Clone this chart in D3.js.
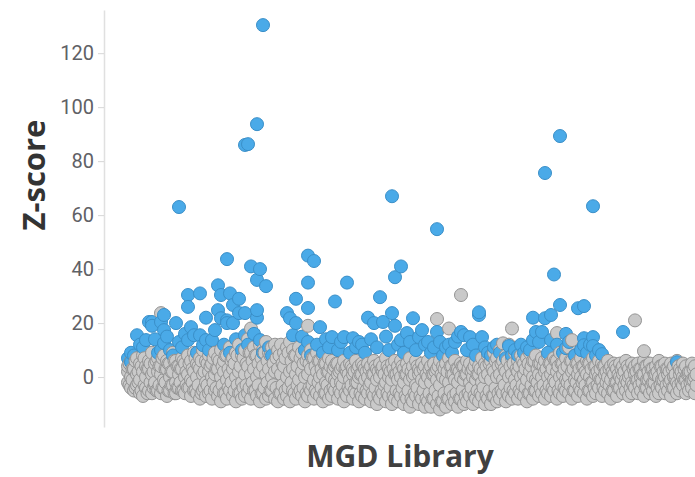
<!DOCTYPE html>
<html>
<head>
<meta charset="utf-8">
<script src="https://cdn.jsdelivr.net/npm/d3@7"></script>
<style>
  body { margin: 0; background: #fff; }
  svg { display: block; }
</style>
</head>
<body>
<div id="chart"></div>
<script>
// y tick labels
var yTicks = [0, 20, 40, 60, 80, 100, 120];

// non-significant libraries, one value per position (upper / middle / lower band)
var bandHigh = [
  4, 6, 3, 7, 5, 8, 4, 6, 9, 5,
  7, 4, 8, 6, 5, 9, 6, 4, 7, 5,
  8, 6, 9, 5, 7, 10, 6, 8, 5, 9,
  7, 10, 6, 8, 11, 7, 9, 12, 8, 10,
  14, 9, 11, 8, 12, 10, 13, 9, 11, 12,
  10, 12, 9, 11, 13, 10, 8, 11, 9, 10,
  8, 10, 7, 9, 6, 8, 5, 7, 6, 4,
  5, 3, 6, 4, 5, 3, 6, 4, 5, 3,
  5, 4, 6, 3, 5, 4, 7, 3, 5, 6,
  4, 6, 3, 5, 7, 4, 6, 3, 5, 4,
  6, 4, 5, 3, 6, 4, 5, 7, 4, 6,
  3, 5, 4, 6, 5, 3, 6, 4, 7, 5,
  8, 6, 9, 7, 10, 6, 8, 12, 7, 9,
  6, 8, 5, 7, 9, 6, 8, 5, 7, 6,
  8, 5, 7, 6, 9, 5, 7, 11, 6, 8,
  5, 7, 4, 6, 5, 7, 4, 6, 5, 4,
  6, 4, 5, 3, 5, 4, 6, 3, 5, 4,
  5, 3, 6, 4, 5, 3, 4, 6, 4, 5,
  3, 5, 4, 6, 3, 5, 4, 2, 5, 4
];

var bandMid = [
  2, 0, 3, 1, -1, 2, 0, 3, 1, -2,
  2, 1, -1, 3, 0, 2, -2, 1, 3, 0,
  1, -1, 2, 0, 3, 1, -2, 2, 0, 1,
  3, 0, 2, -1, 1, 3, 0, 2, -2, 1,
  4, 1, 3, 0, 2, 4, 1, 3, 0, 2,
  3, 1, 4, 0, 2, 3, 1, -1, 2, 0,
  1, 3, -1, 2, 0, 1, -2, 2, 0, -1,
  1, -2, 0, 2, -1, 1, -2, 0, 1, -1,
  0, -2, 1, -1, 0, 2, -2, 0, -1, 1,
  -1, 0, -2, 1, -1, 0, -3, 1, -1, -2,
  0, -2, 1, -1, -3, 0, -1, -2, 1, -1,
  -2, 0, -1, 1, -2, 0, -1, 1, -2, 0,
  1, -1, 2, 0, 1, -1, 2, 0, 1, -1,
  2, 0, 1, -1, 2, 0, -1, 1, 0, 2,
  0, 1, -1, 2, 0, 1, -1, 0, 2, -1,
  1, 0, -1, 1, 0, -2, 1, 0, -1, 1,
  0, -1, 1, -2, 0, 1, -1, 0, -2, 1,
  -1, 0, 1, -1, 0, -2, 1, 0, -1, 0,
  1, -1, 0, -2, 1, 0, -1, 1, -1, 0
];

var bandLow = [
  -2, -4, -5, -3, -6, -7, -4, -5, -6, -3,
  -5, -6, -4, -7, -5, -3, -6, -4, -5, -6,
  -4, -7, -5, -6, -8, -5, -7, -6, -8, -5,
  -7, -9, -6, -8, -5, -7, -9, -6, -8, -7,
  -6, -8, -5, -7, -9, -6, -8, -7, -5, -8,
  -9, -6, -8, -7, -9, -5, -8, -6, -7, -9,
  -7, -5, -8, -6, -7, -9, -6, -8, -7, -5,
  -8, -6, -9, -7, -5, -8, -6, -9, -7, -8,
  -6, -9, -7, -10, -8, -6, -9, -7, -10, -8,
  -9, -7, -10, -8, -11, -9, -7, -10, -8, -11,
  -9, -11, -8, -10, -12, -9, -11, -8, -10, -9,
  -11, -8, -10, -9, -7, -10, -8, -9, -7, -10,
  -8, -10, -7, -9, -8, -6, -9, -7, -8, -6,
  -8, -6, -7, -9, -6, -8, -5, -7, -6, -8,
  -6, -7, -5, -8, -6, -7, -5, -6, -8, -5,
  -7, -5, -6, -8, -5, -7, -6, -4, -7, -5,
  -6, -8, -5, -7, -4, -6, -5, -7, -6, -4,
  -6, -5, -7, -4, -6, -5, -7, -6, -4, -6,
  -5, -7, -4, -6, -5, -3, -6, -5, -4, -6
];

// libraries lying between the positions above (half step to the right)
var betweenHigh = [
  5, 3, 6, 2, 4, 7, 3, 5, 2, 6,
  4, 7, 3, 5, 2, 6, 4, 3, 6, 2,
  5, 3, 7, 4, 6, 2, 5, 4, 7, 3,
  6, 4, 8, 3, 6, 5, 8, 4, 7, 5,
  9, 6, 8, 5, 7, 9, 6, 8, 5, 7,
  8, 5, 7, 9, 6, 8, 4, 7, 5, 6,
  5, 7, 4, 6, 3, 5, 2, 4, 3, 5,
  2, 4, 3, 1, 4, 2, 3, 1, 4, 2,
  3, 1, 4, 2, 3, 1, 4, 2, 3, 1,
  2, 4, 1, 3, 2, 1, 4, 2, 3, 1,
  3, 1, 2, 4, 1, 3, 2, 4, 1, 3,
  2, 4, 1, 3, 2, 4, 1, 3, 2, 4,
  5, 3, 6, 4, 5, 3, 6, 4, 5, 3,
  4, 6, 3, 5, 4, 6, 3, 5, 4, 3,
  5, 3, 6, 4, 5, 3, 4, 6, 3, 5,
  3, 4, 2, 5, 3, 4, 2, 3, 4, 2,
  3, 2, 4, 1, 3, 2, 4, 1, 3, 2,
  3, 1, 4, 2, 3, 1, 2, 4, 2, 3,
  2, 3, 1, 4, 2, 3, 1, 2, 3, 1
];

var betweenLow = [
  -3, -1, -4, -2, -5, -3, -6, -2, -4, -5,
  -3, -4, -2, -5, -3, -6, -4, -2, -5, -3,
  -4, -2, -5, -3, -6, -4, -3, -5, -2, -4,
  -5, -3, -6, -4, -2, -5, -3, -6, -4, -3,
  -4, -2, -5, -3, -6, -4, -2, -5, -3, -4,
  -6, -3, -5, -4, -2, -6, -3, -5, -4, -6,
  -4, -3, -5, -2, -4, -6, -3, -5, -4, -2,
  -5, -3, -6, -4, -3, -5, -2, -6, -4, -5,
  -3, -6, -4, -7, -5, -3, -6, -4, -7, -5,
  -6, -4, -7, -5, -8, -6, -4, -7, -5, -8,
  -6, -8, -5, -7, -9, -6, -8, -5, -7, -6,
  -8, -5, -7, -6, -4, -7, -5, -6, -4, -7,
  -5, -7, -4, -6, -5, -3, -6, -4, -5, -3,
  -5, -3, -4, -6, -3, -5, -2, -4, -3, -5,
  -3, -4, -2, -5, -3, -4, -2, -3, -5, -2,
  -4, -2, -3, -5, -2, -4, -3, -1, -4, -2,
  -3, -5, -2, -4, -1, -3, -2, -4, -3, -1,
  -3, -2, -4, -1, -3, -2, -4, -3, -1, -3,
  -2, -4, -1, -3, -2, -1, -3, -2, -1, -3
];

// non-significant libraries sitting above the band
var greyOutIndex = [11, 41, 60, 103, 107, 111, 125, 128, 143, 148, 169, 172];
var greyOutZ     = [23.7, 18, 19, 21.5, 18, 30.4, 12.5, 18, 16.3, 13.7, 21, 9.6];

// significant hits (library position, z-score)
var hitIndex = [
  0, 1, 1, 2, 3, 4, 5, 6, 7, 8, 8, 9, 10, 11, 11, 12, 12, 12, 13, 14, 15, 16, 17, 17, 18, 19,
  20, 20, 20, 21, 22, 23, 24, 24, 25, 26, 26, 27, 28, 29, 30, 30, 31, 31, 32, 33, 33, 33,
  34, 34, 35, 35, 36, 37, 37, 38, 39, 39, 39, 40, 40, 41, 42, 43, 43, 43, 43, 44, 44, 45, 45, 46, 47, 48,
  53, 54, 55, 56, 56, 58, 59, 60, 60, 60, 60, 61, 62, 63, 64, 65, 66, 67, 68, 69, 70, 71, 72, 73,
  74, 75, 76, 77, 78, 79, 80, 81, 82, 83, 84, 85, 86, 87, 88, 88, 89, 89, 90, 91, 91, 92, 93,
  94, 95, 96, 97, 98, 99, 100, 101, 102, 103, 103, 104, 105, 106, 107, 108, 109, 110, 111, 112,
  113, 114, 115, 116, 117, 117, 118, 119, 120, 121, 122, 123, 124, 126, 127, 128, 129, 130, 131,
  132, 133, 134, 135, 135, 136, 137, 138, 139, 139, 140, 141, 141, 142, 143, 144, 144, 145, 146,
  146, 147, 149, 150, 151, 152, 152, 152, 153, 154, 155, 155, 155, 156, 157, 158, 165, 183
];
var hitZ = [
  7, 5.5, 9, 8, 15.5, 12, 11, 13.7, 20.4, 20.4, 19, 14, 9, 10, 20.4, 23, 17.4, 12.6, 15, 10, 8, 20, 63, 13, 11, 16,
  30.4, 26, 13.7, 18.5, 15.5, 9, 31, 15.5, 11.8, 22, 13.7, 10, 13.7, 17.4, 34, 24.8, 30.4, 21.8, 12, 21, 43.7, 20,
  31, 9, 26.7, 20, 14, 29, 23.7, 10, 23.7, 15.5, 86, 86.3, 12, 41, 16, 22, 93.7, 36, 24.8, 13.7, 40, 130.4, 9, 33.7, 11, 8,
  23.7, 21.8, 15.5, 20, 29, 15, 10, 13, 45, 35, 25.6, 8, 43, 12, 18.5, 9, 14, 11, 14.8, 28, 10, 13, 14.8, 35,
  9, 14.4, 11, 13, 12, 9, 22, 14, 20, 11, 29.6, 20.4, 15, 10, 67, 23.7, 37, 19, 12, 13.7, 41, 9, 16.3,
  13, 21.8, 10, 14.8, 17.4, 12, 13, 9, 11, 54.8, 16.7, 13, 8, 11, 12, 9, 13, 15, 16.7, 15.5,
  10, 14.8, 12, 8, 23, 24, 14.8, 11, 9, 8, 11, 12, 9, 7, 11.5, 8, 10, 8, 12,
  9, 11, 10, 13.7, 22, 16.7, 13, 16.7, 21.8, 75.6, 9, 23, 13.7, 38, 12, 89.3, 26.7, 9, 16,
  10.7, 13, 8, 25.5, 10, 26.3, 14.4, 11.8, 9, 12, 63.3, 14.8, 11.5, 8, 10, 8.5, 16.7, 5.5
];

var width = 695, height = 477;

var svg = d3.select("#chart").append("svg")
    .attr("width", width)
    .attr("height", height);

var x = d3.scaleLinear().domain([0, bandHigh.length - 1]).range([128, 695]);
var y = d3.scaleLinear().domain([-18.5, 136]).range([427, 10]);

// y axis
var yAxis = svg.append("g")
    .attr("transform", "translate(104,0)")
    .call(d3.axisLeft(y).tickValues(yTicks).tickSize(6).tickSizeOuter(0).tickPadding(4));

yAxis.select(".domain").attr("stroke", "#e0e0e0").attr("stroke-width", 1.5);
yAxis.selectAll(".tick line").attr("stroke", "#d6d6d6");
yAxis.selectAll(".tick text")
    .attr("fill", "#5f6166")
    .style("font-family", "Roboto, sans-serif")
    .style("font-size", "20px");

// gather points, plotted in library order
var points = [];
function addGrey(arr, offset) {
  arr.forEach(function(v, i) { points.push({i: i + offset, z: v, hit: false}); });
}
addGrey(bandLow, 0);
addGrey(bandMid, 0);
addGrey(bandHigh, 0);
addGrey(betweenLow, 0.5);
addGrey(betweenHigh, 0.5);
greyOutIndex.forEach(function(v, k) { points.push({i: v, z: greyOutZ[k], hit: false}); });
hitIndex.forEach(function(v, k) { points.push({i: v, z: hitZ[k], hit: true}); });
points.sort(function(a, b) { return a.i - b.i; });

svg.append("g")
  .selectAll("circle")
  .data(points)
  .enter().append("circle")
    .attr("cx", function(d) { return x(d.i); })
    .attr("cy", function(d) { return y(d.z); })
    .attr("r", 6.5)
    .attr("fill", function(d) { return d.hit ? "#4aaae8" : "#c9c9c9"; })
    .attr("stroke", function(d) { return d.hit ? "#3a8fc8" : "#939393"; })
    .attr("stroke-width", 1);

// axis titles
svg.append("text")
    .attr("transform", "translate(45,175) rotate(-90)")
    .attr("text-anchor", "middle")
    .attr("fill", "#333")
    .style("font-family", "'Open Sans', sans-serif")
    .style("font-weight", "bold")
    .style("font-size", "31px")
    .text("Z-score");

svg.append("text")
    .attr("x", 400)
    .attr("y", 467)
    .attr("text-anchor", "middle")
    .attr("fill", "#404040")
    .style("font-family", "'Open Sans', sans-serif")
    .style("font-weight", "bold")
    .style("font-size", "30px")
    .text("MGD Library");
</script>
</body>
</html>
